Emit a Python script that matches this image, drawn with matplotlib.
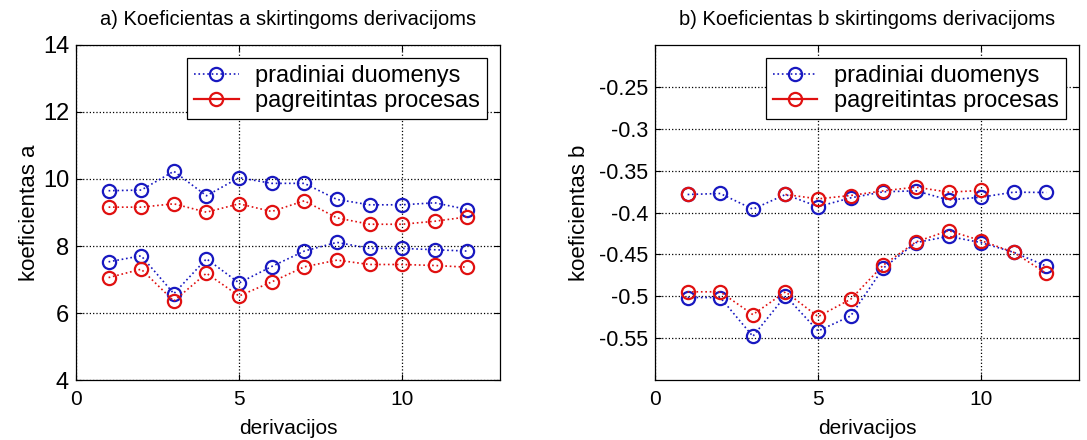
import numpy as np
import matplotlib
matplotlib.use("Agg")
import matplotlib.pyplot as plt
from matplotlib.lines import Line2D

nan = np.nan
deriv = np.arange(1, 13)

# koeficientas a
a_orig_hi = [9.65, 9.67, 10.23, 9.50, 10.04, 9.87, 9.87, 9.39, 9.23, 9.23, 9.29, 9.09]
a_orig_lo = [7.53, 7.71, 6.58, 7.62, 6.90, 7.39, 7.85, 8.11, 7.93, 7.93, 7.89, 7.85]
a_fast_hi = [9.16, 9.16, 9.26, 9.01, 9.26, 9.03, 9.35, 8.84, 8.65, 8.65, 8.74, 8.87]
a_fast_lo = [7.06, 7.31, 6.36, 7.19, 6.51, 6.93, 7.38, 7.58, 7.45, 7.45, 7.42, 7.37]

# koeficientas b
b_orig_hi = [-0.3785, -0.3773, -0.396, -0.3785, -0.393, -0.3825, -0.3753, -0.3741, -0.385, -0.3817, -0.3757, -0.3761]
b_orig_lo = [-0.5014, -0.5014, -0.5477, -0.4994, -0.5413, -0.5234, -0.4663, -0.4359, -0.4284, -0.4359, -0.4475, -0.4639]
b_fast_hi = [-0.3777, nan, nan, -0.3785, -0.3837, -0.3797, -0.3741, -0.3697, -0.3757, -0.3737, nan, nan]
b_fast_lo = [-0.4946, -0.4946, -0.5218, -0.4946, -0.5242, -0.5034, -0.4627, -0.4351, -0.4216, -0.4336, -0.4475, -0.4727]

labels = ["pradiniai duomenys", "pagreitintas procesas"]
a_yticks = [4, 6, 8, 10, 12, 14]
b_yticks = [-0.55, -0.5, -0.45, -0.4, -0.35, -0.3, -0.25]
b_yticklabels = ["-0.55", "-0.5", "-0.45", "-0.4", "-0.35", "-0.3", "-0.25"]

BLUE = "#1818c0"
RED = "#e01010"

plt.rcParams["font.family"] = ["Liberation Sans", "DejaVu Sans"]

fig = plt.figure(figsize=(10.87, 4.4), dpi=100)
ax1 = fig.add_axes([0.0699, 0.136, 0.3901, 0.762])
ax2 = fig.add_axes([0.6026, 0.136, 0.39, 0.762])


def draw(ax, orig_hi, orig_lo, fast_hi, fast_lo, ytick_size):
    mk = dict(marker="o", markersize=9.5, markerfacecolor="none",
              markeredgewidth=1.6, linestyle=":", linewidth=1.2)
    for ys in (orig_hi, orig_lo):
        ax.plot(deriv, ys, color=BLUE, **mk)
    for ys in (fast_hi, fast_lo):
        ax.plot(deriv, ys, color=RED, **mk)
    ax.set_xlim(0, 13)
    ax.set_xticks([0, 5, 10])
    ax.grid(True, color="black", linestyle=":", linewidth=0.9)
    ax.tick_params(direction="in", length=4, top=True, right=True)
    ax.tick_params(axis="x", labelsize=15, pad=7)
    ax.tick_params(axis="y", labelsize=ytick_size, pad=5)
    for s in ax.spines.values():
        s.set_linewidth(0.9)
    handles = [
        Line2D([], [], color=BLUE, linestyle=":", linewidth=1.2, marker="o",
               markersize=9.5, markerfacecolor="none", markeredgewidth=1.6),
        Line2D([], [], color=RED, linestyle="-", linewidth=1.6, marker="o",
               markersize=9.5, markerfacecolor="none", markeredgewidth=1.6),
    ]
    leg = ax.legend(handles, labels, loc="upper right", fontsize=17,
                    fancybox=False, framealpha=1, edgecolor="black",
                    borderaxespad=0.55, handlelength=1.9, borderpad=0.3,
                    labelspacing=0.12, handletextpad=0.7)
    leg.get_frame().set_linewidth(0.9)
    ax.set_xlabel("derivacijos", fontsize=15, labelpad=7)


draw(ax1, a_orig_hi, a_orig_lo, a_fast_hi, a_fast_lo, 17)
ax1.set_ylim(4, 14)
ax1.set_yticks(a_yticks)
ax1.set_ylabel("koeficientas a", fontsize=16, labelpad=2)
ax1.set_title("a) Koeficientas a skirtingoms derivacijoms", fontsize=14.5, pad=14)

draw(ax2, b_orig_hi, b_orig_lo, b_fast_hi, b_fast_lo, 15.5)
ax2.set_ylim(-0.6, -0.2)
ax2.set_yticks(b_yticks)
ax2.set_yticklabels(b_yticklabels)
ax2.set_ylabel("koeficientas b", fontsize=16, labelpad=6)
ax2.set_title("b) Koeficientas b skirtingoms derivacijoms", fontsize=14.5, pad=14)

fig.savefig("out.png", dpi=100)
